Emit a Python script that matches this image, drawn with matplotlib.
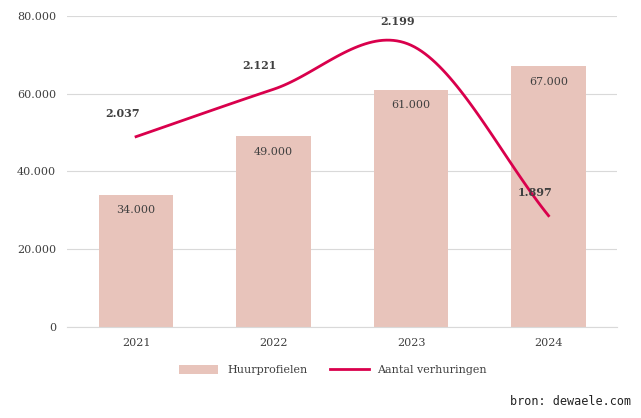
import numpy as np
import matplotlib
matplotlib.use("Agg")
import matplotlib.pyplot as plt
from matplotlib.ticker import FuncFormatter

matplotlib.rcParams['font.family'] = 'DejaVu Serif'

years = ["2021", "2022", "2023", "2024"]
huurprofielen = [34000, 49000, 61000, 67000]
verhuringen = [2037, 2121, 2199, 1897]

BAR_COLOR = '#e8c4bb'
LINE_COLOR = '#d9004c'
TEXT_COLOR = '#404040'


def dots(v, _=None):
    return f"{int(round(v)):,}".replace(",", ".")


def catmull_rom(xs, ys, n=40):
    # smooth line through the points, like a spreadsheet "smoothed line"
    xs = np.asarray(xs, float)
    ys = np.asarray(ys, float)
    px = np.concatenate([[2 * xs[0] - xs[1]], xs, [2 * xs[-1] - xs[-2]]])
    py = np.concatenate([[2 * ys[0] - ys[1]], ys, [2 * ys[-1] - ys[-2]]])
    out_x, out_y = [], []
    for i in range(1, len(px) - 2):
        t = np.linspace(0, 1, n)
        for p, out in ((px, out_x), (py, out_y)):
            p0, p1, p2, p3 = p[i - 1], p[i], p[i + 1], p[i + 2]
            out.extend(0.5 * (2 * p1 + (-p0 + p2) * t + (2 * p0 - 5 * p1 + 4 * p2 - p3) * t ** 2
                              + (-p0 + 3 * p1 - 3 * p2 + p3) * t ** 3))
    return out_x, out_y


fig = plt.figure(figsize=(6.41, 4.18), dpi=100)
ax = fig.add_axes([0.105, 0.218, 0.858, 0.744])
x = np.arange(len(years))

ax.bar(x, huurprofielen, width=0.54, color=BAR_COLOR, label='Huurprofielen', zorder=2)
for xi, v in zip(x, huurprofielen):
    ax.text(xi, v - 2600, dots(v), ha='center', va='top', fontsize=8, color=TEXT_COLOR, zorder=4)

ax.set_xlim(-0.5, 3.5)
ax.set_ylim(0, 80000)
ax.set_yticks(range(0, 80001, 20000))
ax.yaxis.set_major_formatter(FuncFormatter(dots))
ax.set_xticks(x)
ax.set_xticklabels(years)
ax.tick_params(length=0, labelsize=8, colors=TEXT_COLOR, pad=8)
ax.grid(axis='y', color='#d9d9d9', linewidth=0.8, zorder=0)
ax.set_axisbelow(True)
for s in ax.spines.values():
    s.set_visible(False)
ax.spines['bottom'].set_visible(True)
ax.spines['bottom'].set_color('#d9d9d9')

ax2 = ax.twinx()
ax2.set_ylim(1700, 2251)
ax2.axis('off')
sx, sy = catmull_rom(x, verhuringen)
ax2.plot(sx, sy, color=LINE_COLOR, linewidth=2, zorder=3)
for xi, v in zip(x, verhuringen):
    ax2.text(xi - 0.1, v + 32, dots(v), ha='center', va='bottom', fontsize=8,
             fontweight='bold', color=TEXT_COLOR)

h1, l1 = ax.get_legend_handles_labels()
line_handle = plt.Line2D([], [], color=LINE_COLOR, linewidth=2)
fig.legend(h1 + [line_handle], l1 + ['Aantal verhuringen'], loc='center',
           bbox_to_anchor=(0.52, 0.115), ncol=2, frameon=False, fontsize=8,
           labelcolor=TEXT_COLOR, handlelength=3.5, handleheight=0.9)

fig.text(0.985, 0.025, "bron: dewaele.com", ha='right', va='bottom',
         fontsize=8.5, family='DejaVu Sans Mono', color='#222222')

fig.savefig('out.png', dpi=100)
